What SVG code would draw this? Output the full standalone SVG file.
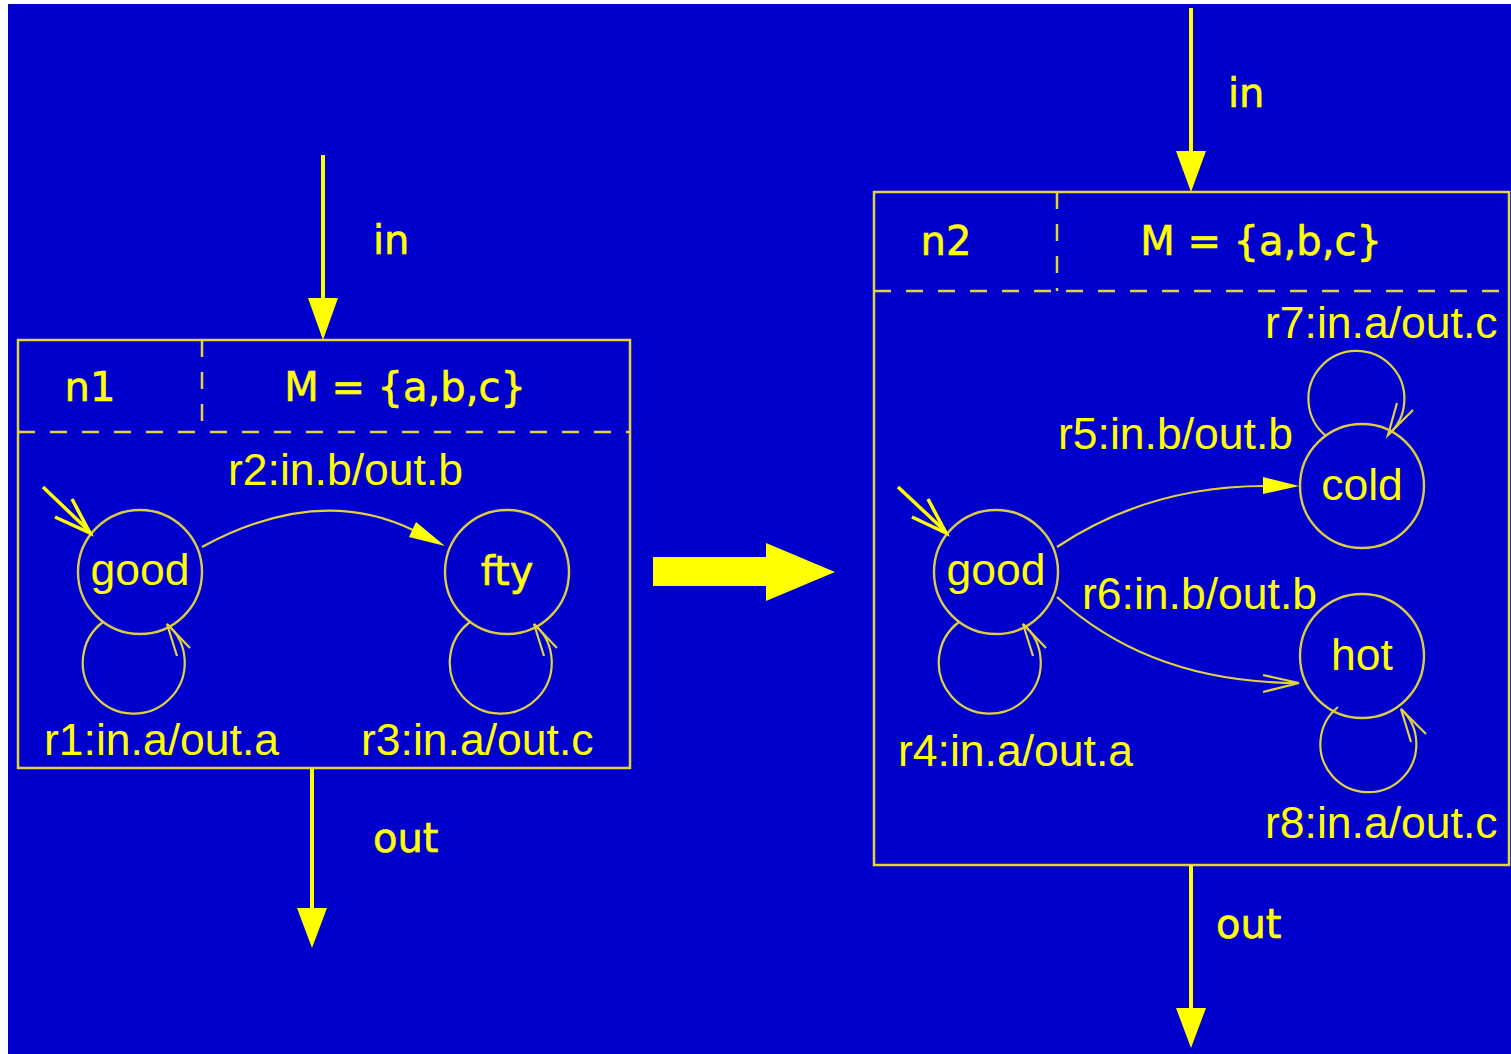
<svg xmlns="http://www.w3.org/2000/svg" width="1511" height="1054" viewBox="0 0 1511 1054">
<style>
.box{fill:none;stroke:#E4D43A;stroke-width:2.5}
.dash{fill:none;stroke:#E4D43A;stroke-width:2.5;stroke-dasharray:17 15}
.st{fill:none;stroke:#DCCB45;stroke-width:2.4}
.thin{fill:none;stroke:#E2D240;stroke-width:2.2}
.flow{fill:none;stroke:#FFFF00;stroke-width:4}
.init{fill:none;stroke:#FFFF00;stroke-width:3.5}
.head{fill:#FFFF00}
.a{font-family:"Liberation Sans",Arial,sans-serif;font-size:44.5px;fill:#FFFF00}
.t{font-family:"DejaVu Sans",Verdana,sans-serif;font-size:40px;fill:#FFFF00;stroke:#FFFF00;stroke-width:0.6}
</style>
<rect x="0" y="0" width="1511" height="1054" fill="#FFFFFF"/>
<rect x="8" y="4" width="1503" height="1050" fill="#0000CC"/>

<g id="n1">
<rect class="box" x="18" y="340" width="612" height="428"/>
<line class="dash" x1="18" y1="432" x2="630" y2="432"/>
<line class="dash" x1="202" y1="340" x2="202" y2="432"/>
<text class="t" x="90" y="401" text-anchor="middle">n1</text>
<text class="t" x="405" y="401" text-anchor="middle" font-size="39">M = {a,b,c}</text>
</g>
<g id="n1-good">
<circle class="st" cx="140" cy="572" r="62"/>
<text class="a" x="140" y="585" text-anchor="middle">good</text>
</g>
<g id="n1-fty">
<circle class="st" cx="507" cy="572" r="62"/>
<text class="t" x="507" y="585" text-anchor="middle" font-size="37">fty</text>
</g>

<g id="n2">
<rect class="box" x="874" y="192" width="635" height="673"/>
<line class="dash" x1="874" y1="291" x2="1509" y2="291"/>
<line class="dash" x1="1057" y1="192" x2="1057" y2="291"/>
<text class="t" x="946" y="255" text-anchor="middle">n2</text>
<text class="t" x="1261" y="255" text-anchor="middle" font-size="39">M = {a,b,c}</text>
</g>
<g id="n2-good">
<circle class="st" cx="996" cy="572" r="62"/>
<text class="a" x="996" y="585" text-anchor="middle">good</text>
</g>
<g id="n2-cold">
<circle class="st" cx="1362" cy="486" r="62"/>
<text class="a" x="1362" y="500" text-anchor="middle">cold</text>
</g>
<g id="n2-hot">
<circle class="st" cx="1362" cy="656" r="62"/>
<text class="a" x="1362" y="670" text-anchor="middle">hot</text>
</g>

<g id="transform-arrow">
<polygon class="head" points="653,557 766,557 766,543 835,572 766,601 766,586 653,586"/>
</g>

<g id="connectors">
<line class="flow" x1="323" y1="155" x2="323" y2="302"/>
<polygon class="head" points="308,298 338,298 323,340"/>
<text class="t" x="373" y="254">in</text>
<line class="flow" x1="312" y1="768" x2="312" y2="912"/>
<polygon class="head" points="297,908 327,908 312,948"/>
<text class="t" x="373" y="852">out</text>
<line class="flow" x1="1191" y1="8" x2="1191" y2="154"/>
<polygon class="head" points="1176,151 1206,151 1191,192"/>
<text class="t" x="1228" y="107">in</text>
<line class="flow" x1="1191" y1="865" x2="1191" y2="1012"/>
<polygon class="head" points="1176,1008 1206,1008 1191,1048"/>
<text class="t" x="1216" y="938">out</text>

<line class="init" x1="43" y1="487" x2="89" y2="531"/>
<polyline class="init" points="55,517 90,533 72,499"/>
<path class="thin" d="M103,622 A51,51 0 1 0 167,624"/>
<polyline class="thin" points="177,656 167,624 190,648"/>
<text class="a" x="44" y="755">r1:in.a/out.a</text>
<path class="thin" d="M202,547 Q318,484 413,530"/>
<polygon class="head" points="445,546 409,537 416,522"/>
<text class="a" x="228" y="485">r2:in.b/out.b</text>
<path class="thin" d="M470,622 A51,51 0 1 0 534,624"/>
<polyline class="thin" points="544,656 534,624 557,648"/>
<text class="a" x="361" y="755">r3:in.a/out.c</text>

<line class="init" x1="898" y1="487" x2="945" y2="531"/>
<polyline class="init" points="912,517 946,533 928,499"/>
<path class="thin" d="M959,622 A51,51 0 1 0 1023,624"/>
<polyline class="thin" points="1033,656 1023,624 1046,648"/>
<text class="a" x="898" y="766">r4:in.a/out.a</text>
<path class="thin" d="M1057,547 C1120,505 1190,486 1265,486"/>
<polygon class="head" points="1299,486 1263,477 1263,494"/>
<text class="a" x="1058" y="449">r5:in.b/out.b</text>
<path class="thin" d="M1057,597 C1120,655 1200,683 1299,683"/>
<polyline class="thin" points="1263,675 1299,683 1263,692"/>
<text class="a" x="1082" y="609">r6:in.b/out.b</text>
<path class="thin" d="M1326,436 A48,48 0 1 1 1388,435"/>
<polyline class="thin" points="1397,403 1388,435 1413,410"/>
<text class="a" x="1265" y="338">r7:in.a/out.c</text>
<path class="thin" d="M1338,707 A48,48 0 1 0 1401,709"/>
<polyline class="thin" points="1411,742 1401,709 1426,734"/>
<text class="a" x="1265" y="838">r8:in.a/out.c</text>
</g>
</svg>
